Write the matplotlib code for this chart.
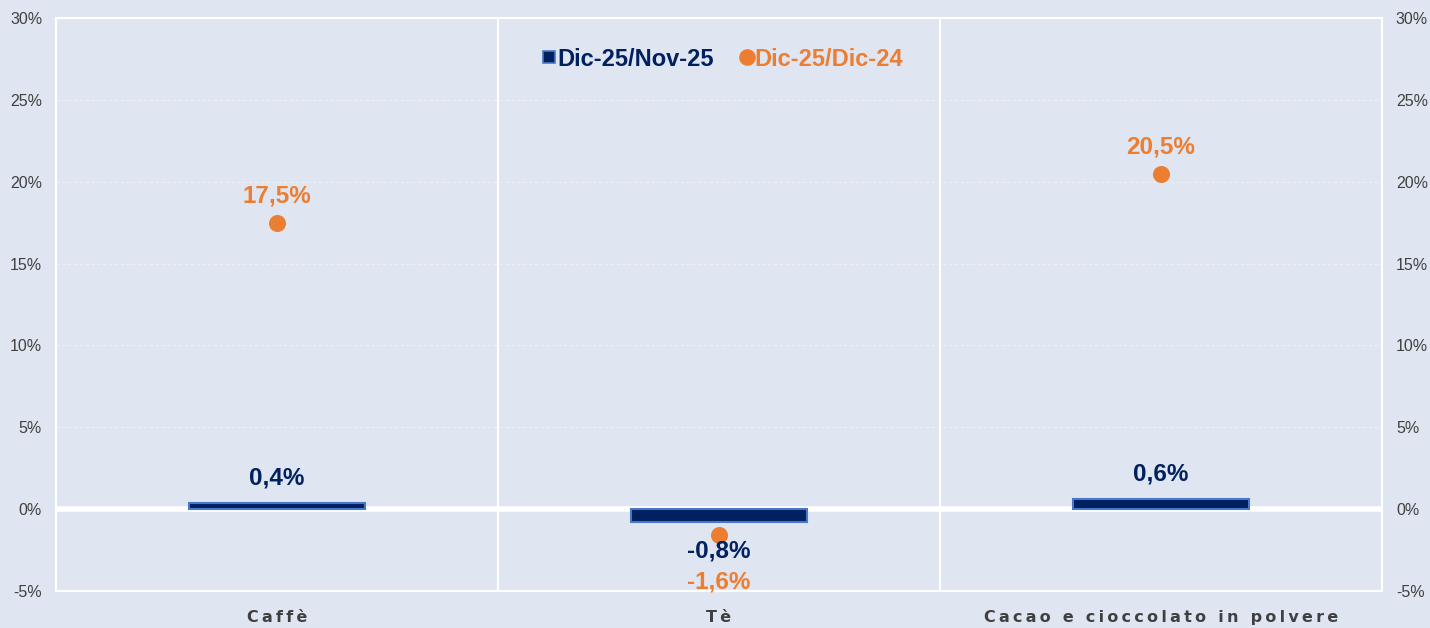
import matplotlib
matplotlib.use("Agg")
import matplotlib.pyplot as plt
import numpy as np

categories = ["Caffè", "Tè", "Cacao e cioccolato in polvere"]
mom_values = [0.4, -0.8, 0.6]      # Dic-25/Nov-25
yoy_values = [17.5, -1.6, 20.5]    # Dic-25/Dic-24
series_names = ["Dic-25/Nov-25", "Dic-25/Dic-24"]
yticks = [-5, 0, 5, 10, 15, 20, 25, 30]

plt.rcParams["font.family"] = ["Liberation Sans", "DejaVu Sans"]

BG = "#dfe6f2"
NAVY = "#002060"
EDGE = "#4a78c8"
ORANGE = "#ed7d31"
GREY = "#404040"

fig = plt.figure(figsize=(14.3, 6.28), dpi=100, facecolor=BG)
ax = fig.add_axes([56/1430, 1-591/628, (1382-56)/1430, (591-18)/628])
ax.set_facecolor(BG)

x = np.arange(len(categories))
ax.bar(x, mom_values, width=0.40, color=NAVY, edgecolor=EDGE, linewidth=1.5, zorder=3,
       label=series_names[0])
ax.scatter(x, yoy_values, s=150, color=ORANGE, zorder=4, label=series_names[1], linewidths=0)

ax.set_xlim(-0.5, len(categories)-0.5)
ax.set_ylim(-5, 30)
ax.set_yticks(yticks)
ax.set_yticklabels([f"{t}%" for t in yticks])
ax.tick_params(axis="y", length=0, labelsize=11.5, labelcolor=GREY, pad=10)

# grid
for t in yticks:
    if t not in (-5, 0, 30):
        ax.axhline(t, color="white", lw=0.6, ls=(0, (4, 3)), alpha=0.5, zorder=1)
ax.axhline(0, color="white", lw=4, zorder=2)
for b in np.arange(0.5, len(categories)-0.5, 1):
    ax.axvline(b, color="white", lw=1.5, zorder=1)
for s in ax.spines.values():
    s.set_color("white")
    s.set_linewidth(1.5)

ax.set_xticks(x)
ax.set_xticklabels(["\u2009".join(c) for c in categories], fontsize=11.5, fontweight="bold",
                   color=GREY, family=["DejaVu Sans Condensed", "DejaVu Sans"])
ax.tick_params(axis="x", length=0, pad=14)

ax2 = ax.twinx()
ax2.set_ylim(-5, 30)
ax2.set_yticks(yticks)
ax2.set_yticklabels([f"{t}%" for t in yticks])
ax2.tick_params(axis="y", length=0, labelsize=11.5, labelcolor=GREY, pad=10)
for s in ax2.spines.values():
    s.set_visible(False)

def fmt(v):
    return f"{v:.1f}%".replace(".", ",")

for xi, v in zip(x, mom_values):
    off = 18 if v >= 0 else -21
    ax.annotate(fmt(v), (xi, v), xytext=(0, off), textcoords="offset points",
                ha="center", va="center", fontsize=17.5, fontweight="bold", color=NAVY, zorder=5)
for xi, v, m in zip(x, yoy_values, mom_values):
    if v >= 0:
        ax.annotate(fmt(v), (xi, v), xytext=(0, 19), textcoords="offset points",
                    ha="center", va="center", fontsize=17.5, fontweight="bold", color=ORANGE, zorder=5)
    else:
        ax.annotate(fmt(v), (xi, m), xytext=(0, -43), textcoords="offset points",
                    ha="center", va="center", fontsize=17.5, fontweight="bold", color=ORANGE, zorder=5)

h1 = plt.Line2D([], [], marker="s", ls="", markersize=9, markerfacecolor=NAVY,
                markeredgecolor=EDGE, markeredgewidth=1.2)
h2 = plt.Line2D([], [], marker="o", ls="", markersize=12, markerfacecolor=ORANGE,
                markeredgewidth=0)
leg = ax.legend([h1, h2], series_names, loc="center", bbox_to_anchor=(0.5, 1-(59-18)/573),
                ncol=2, frameon=False, handletextpad=-0.25, columnspacing=0.8, handlelength=1.2,
                prop={"weight": "bold", "size": 17})
leg.get_texts()[0].set_color(NAVY)
leg.get_texts()[1].set_color(ORANGE)

fig.savefig("out.png", dpi=100, facecolor=BG)
